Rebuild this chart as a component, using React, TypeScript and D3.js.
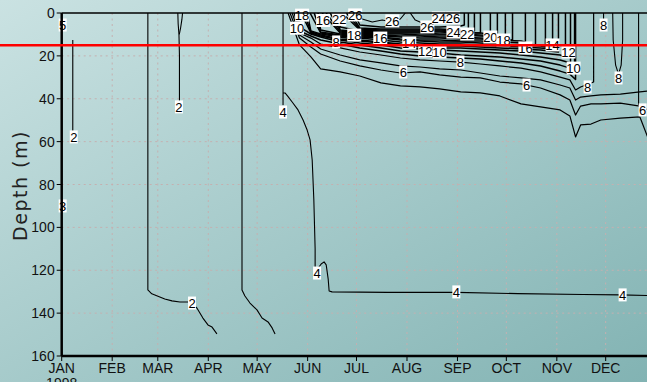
import React from 'react';
import * as d3 from 'd3';

// Lake temperature isotherms (°C) against day of year and depth, 1998.
const WIDTH = 647;
const HEIGHT = 382;

const MONTHS = ['JAN', 'FEB', 'MAR', 'APR', 'MAY', 'JUN', 'JUL', 'AUG', 'SEP', 'OCT', 'NOV', 'DEC'];
const MONTH_START_DAYS = [0, 31, 59, 90, 120, 151, 181, 212, 243, 273, 304, 334];
const YEAR_LABEL = '1998';
const DEPTH_TICKS = [0, 20, 40, 60, 80, 100, 120, 140, 160];
const REFERENCE_DEPTH = 15;

// Days on which the summer thermocline isotherm depths were read.
const KEY_DAYS = [146, 153, 159, 171, 183, 196, 208, 220, 232, 245, 257, 269, 282, 294, 306, 312, 315.5, 318.6, 325, 331, 343, 355, 360];

type Isotherm = { level: number; start: number; first: number; depths: number[]; end?: number; endDepth?: number };

// Each isotherm leaves the surface on `start`, follows `depths` from KEY_DAYS[first], and
// returns to the surface on `end` (turning up at `endDepth`).
const THERMOCLINE: Isotherm[] = [
  { level: 5, start: 139, first: 0, depths: [14.9, 20.5, 26.1, 27.5, 29.4, 32.6, 34.0, 34.5, 35.4, 36.8, 37.3, 38.7, 42.4, 43.8, 45.2, 48.0, 57.8, 52.2, 51.8, 49.9, 49.0, 48.5, 58.3] },
  { level: 6, start: 140.2, first: 0, depths: [11.7, 15.9, 19.1, 22.4, 24.7, 26.6, 28.0, 27.5, 28.9, 29.9, 30.3, 32.2, 33.1, 35.0, 38.2, 40.6, 47.6, 43.4, 42.4, 42.4, 42.0, 43.4, 45.2] },
  { level: 7, start: 141.5, first: 0, depths: [10.3, 13.5, 16.8, 19.6, 21.9, 23.3, 24.7, 25.2, 26.1, 26.6, 28.0, 29.4, 30.3, 31.2, 33.6, 35.0, 40.6, 39.2, 38.7, 38.2, 37.8, 36.8, 36.4] },
  { level: 8, start: 142.7, first: 0, depths: [9.3, 11.7, 14.5, 16.3, 18.2, 19.6, 21.0, 21.9, 22.4, 22.9, 23.8, 24.7, 25.7, 27.5, 29.9, 31.2, 35.9, 34.5], end: 326.6, endDepth: 32.2 },
  { level: 9, start: 143.9, first: 0, depths: [8.4, 10.7, 12.6, 14.5, 16.3, 17.7, 19.1, 20.1, 20.5, 21.0, 21.5, 22.4, 23.3, 24.7, 27.1, 28.5], end: 315.5, endDepth: 31 },
  { level: 10, start: 145.1, first: 0, depths: [6.5, 9.8, 11.2, 13.5, 14.9, 16.3, 17.7, 18.2, 18.7, 19.6, 20.1, 20.5, 21.5, 22.4, 24.3, 25.7], end: 314.9, endDepth: 27.5 },
  { level: 11, start: 147, first: 1, depths: [9.3, 10.7, 12.6, 14.0, 14.9, 16.3, 16.8, 17.3, 17.7, 18.2, 18.7, 19.6, 20.5, 21.9], end: 312.4, endDepth: 23.3 },
  { level: 12, start: 148.8, first: 1, depths: [8.9, 10.3, 12.1, 13.1, 14.0, 14.9, 15.9, 16.3, 16.3, 16.8, 17.3, 17.7, 18.7, 19.6], end: 309.3, endDepth: 20.5 },
  { level: 13, start: 150.7, first: 1, depths: [8.4, 9.8, 11.2, 12.6, 13.5, 14.5, 14.9, 15.4, 15.4, 15.9, 16.3, 16.8, 17.3], end: 305, endDepth: 18.2 },
  { level: 14, start: 152.5, first: 2, depths: [9.3, 10.7, 11.7, 12.6, 13.5, 14.0, 14.5, 14.5, 14.9, 15.4, 15.9, 16.3], end: 301.4, endDepth: 16.8 },
  { level: 15, start: 155, first: 2, depths: [8.9, 10.3, 11.2, 11.7, 12.6, 13.1, 13.5, 13.5, 14.0, 14.5, 14.9, 15.4], end: 297, endDepth: 15.9 },
  { level: 16, start: 157.4, first: 2, depths: [7.9, 9.8, 10.7, 11.2, 12.1, 12.6, 12.6, 13.1, 13.1, 13.5, 14.0], end: 290.9, endDepth: 14.9 },
  { level: 17, start: 159.9, first: 3, depths: [9.3, 10.3, 10.7, 11.2, 11.7, 11.7, 12.1, 12.1, 12.6, 13.1], end: 284.7, endDepth: 13.5 },
  { level: 18, start: 162.4, first: 3, depths: [8.9, 9.8, 10.3, 10.7, 10.7, 11.2, 11.2, 11.7, 12.1], end: 276.8, endDepth: 12.6 },
  { level: 19, start: 164.8, first: 3, depths: [8.4, 9.3, 9.8, 9.8, 10.3, 10.3, 10.3, 10.7, 11.2], end: 272.4, endDepth: 11.7 },
  { level: 20, start: 167.3, first: 3, depths: [7.9, 8.9, 9.3, 9.3, 9.3, 9.8, 9.8, 10.3], end: 267.5, endDepth: 10.7 },
  { level: 21, start: 169.7, first: 3, depths: [6.5, 8.4, 8.9, 8.9, 8.9, 8.9, 9.3, 9.3], end: 263.2, endDepth: 9.8 },
  { level: 22, start: 172.2, first: 4, depths: [7.9, 8.4, 8.4, 8.4, 8.4, 8.9], end: 257.1, endDepth: 9.3 },
  { level: 23, start: 174.7, first: 4, depths: [7.5, 7.9, 7.9, 7.9, 7.9, 8.4], end: 253.4, endDepth: 8.4 },
  { level: 24, start: 177.1, first: 4, depths: [7.0, 7.5, 7.5, 7.5, 7.5, 7.9], end: 249.7, endDepth: 7.9 },
  { level: 25, start: 179.6, first: 4, depths: [5.6, 6.5, 6.5, 6.5, 6.5, 6.1], end: 247.2, endDepth: 5.6 },
];

// Free-standing isotherm segments as [day, depth] pairs.
const ISO2_JANUARY: [number, number][] = [[6.8, 12.6], [6.8, 57.5]];
const ISO2_MARCH: [number, number][] = [[52.9, 0], [52.9, 129.2], [55.3, 131], [57.2, 131.5], [63.3, 133.4], [67.7, 134.3], [72.6, 134.8], [78.7, 134.8], [83, 137.6], [86.7, 142.3], [89.8, 145.5], [92.3, 146.5], [95.3, 149.7]];
const ISO2_SPIKE_A: [number, number][] = [[71.3, 0], [71.5, 5], [72, 10], [72.3, 20], [72.3, 42]];
const ISO2_SPIKE_B: [number, number][] = [[74.2, 0], [73.8, 3], [73, 7], [72.2, 10]];
const ISO3_APRIL: [number, number][] = [[110.7, 0], [110.7, 129.2], [112.5, 132], [115.6, 135.3], [119.9, 138.5], [123, 142.3], [126.7, 144.1], [129.2, 146.9], [131, 149.7]];
const ISO4_JUNE_TOP: [number, number][] = [[135.9, 0], [135.9, 43]];
const ISO4_JUNE: [number, number][] = [[135.9, 37.3], [137.1, 37.3], [139, 39], [141.5, 41.5], [145.1, 45.2], [148.2, 49.9], [150.7, 54.6], [152.5, 59.2], [153.8, 68.6], [154.8, 87], [155.6, 110], [155.6, 121], [157.5, 119], [159.3, 117.1], [161.1, 116.1], [162.4, 117.5], [163.6, 124], [164.2, 129.7], [166, 130.1], [200, 130.3], [242.3, 130.3], [280, 130.9], [320, 131.3], [343, 131.5], [362, 131.8]];
const ISO26_POOLS: [number, number][][] = [
  [[181.4, 0], [184.5, 2.8], [190.7, 4.2], [196.8, 3.3], [203, 4.2], [207.9, 2.8], [211, 0]],
  [[214, 0], [217.1, 3.3], [221.4, 4.7], [224.5, 5.2], [228.2, 4.7], [231.2, 3.3], [233.1, 0]],
  [[234.3, 0], [236.2, 2.8], [238.6, 4.2], [241.7, 2.8], [243.5, 0]],
];
const ISO6_DECEMBER: [number, number][] = [[354.2, 0], [354.2, 43]];
const ISO8_DECEMBER_A: [number, number][] = [[332.7, 0], [332.7, 7]];
const ISO8_DECEMBER_B: [number, number][] = [[338.3, 0], [338.6, 12.6], [340.1, 24.3], [341.9, 28.5], [343.5, 24.3], [344.4, 12.6], [344.4, 0]];

// Contour labels: text, day, depth.
const LABELS: [string, number, number][] = [
  ['5', 0.6, 5.6], ['3', 0.6, 90],
  ['2', 7.4, 57.8], ['2', 72, 43.8], ['2', 80, 135.3],
  ['4', 135.9, 46.2], ['4', 156.8, 121.3], ['4', 242.3, 130.1], ['4', 344.4, 131.5],
  ['10', 144.5, 7.1], ['18', 147.6, 1.0], ['16', 160.5, 3.5], ['22', 170.4, 3.0], ['26', 180.2, 0.9],
  ['8', 168.5, 13.5], ['18', 179.6, 10.3], ['16', 195.6, 11.7], ['14', 213.4, 14],
  ['12', 223.2, 17.7], ['10', 232, 18.2], ['8', 244.8, 22.9], ['6', 209.7, 27.5],
  ['26', 203, 3.7], ['26', 224.5, 6.5], ['24', 231.5, 2.3], ['26', 240.3, 2.3],
  ['24', 240.5, 8.9], ['22', 249, 9.8], ['20', 263.2, 11.2], ['18', 271.2, 12.6],
  ['16', 284.7, 16.3], ['14', 301.4, 14.9], ['12', 311.2, 18.2], ['10', 314.3, 25.7],
  ['8', 322.9, 34.5], ['6', 285.4, 33.6], ['8', 332.7, 5.6], ['8', 341.9, 30.3], ['6', 356.7, 45.2],
];

const NARROW = "'Liberation Sans Narrow', 'Arial Narrow', 'Liberation Sans', sans-serif";

function isothermPoints(iso: Isotherm): [number, number][] {
  const pts: [number, number][] = [[iso.start, 0]];
  iso.depths.forEach((d, i) => pts.push([KEY_DAYS[iso.first + i], d]));
  if (iso.end !== undefined) {
    pts.push([iso.end, iso.endDepth as number]);
    pts.push([iso.end, 0]);
  }
  return pts;
}

export default function App() {
  const x = d3.scaleLinear().domain([0, 365]).range([61.7, 61.7 + 365 * 1.6287]);
  const y = d3.scaleLinear().domain([0, 160]).range([13, 356]);
  const line = d3.line<[number, number]>().x(d => x(d[0])).y(d => y(d[1]));

  const x0 = x(0);
  const x1 = x(365);
  const yTop = y(0);
  const yBottom = y(160);

  const segments: [number, number][][] = [
    ISO2_JANUARY, ISO2_MARCH, ISO2_SPIKE_A, ISO2_SPIKE_B, ISO3_APRIL,
    ISO4_JUNE_TOP, ISO4_JUNE, ...ISO26_POOLS, ISO6_DECEMBER, ISO8_DECEMBER_A, ISO8_DECEMBER_B,
  ];

  return (
    <div style={{ position: 'absolute', left: 0, top: 0, width: WIDTH, height: HEIGHT, overflow: 'hidden' }}>
      <svg width={WIDTH} height={HEIGHT} style={{ display: 'block' }}>
        <defs>
          <linearGradient id="bg" x1="0" y1="0" x2="1" y2="1">
            <stop offset="0%" stopColor="#cae2e2" />
            <stop offset="100%" stopColor="#82b3b3" />
          </linearGradient>
          <clipPath id="plot">
            <rect x={x0} y={yTop} width={x1 - x0} height={yBottom - yTop} />
          </clipPath>
        </defs>
        <rect x={0} y={0} width={WIDTH} height={HEIGHT} fill="url(#bg)" />

        <g stroke="#c4b0b0" strokeWidth={1} strokeDasharray="2,3.5">
          {MONTH_START_DAYS.slice(1).map(d => (
            <line key={`gx${d}`} x1={x(d)} x2={x(d)} y1={yTop} y2={yBottom} />
          ))}
          {DEPTH_TICKS.slice(1, -1).map(d => (
            <line key={`gy${d}`} x1={x0} x2={x1} y1={y(d)} y2={y(d)} />
          ))}
        </g>

        <g clipPath="url(#plot)" fill="none" stroke="#000" strokeLinejoin="round">
          {segments.map((s, i) => (
            <path key={`s${i}`} d={line(s) as string} strokeWidth={1.1} />
          ))}
          {THERMOCLINE.map(iso => (
            <path key={`t${iso.level}`} d={line(isothermPoints(iso)) as string} strokeWidth={iso.level >= 9 ? 1.5 : 1.2} />
          ))}
        </g>

        <g fontFamily={NARROW} fontSize={13} textAnchor="middle">
          {LABELS.map(([t, day, depth], i) => {
            const w = t.length * 6 + 2;
            return (
              <g key={i} transform={`translate(${x(day)},${y(depth)})`}>
                <rect x={-w / 2} y={-6.5} width={w} height={13} fill="#fff" />
                <text y={4.6} fill="#000">{t}</text>
              </g>
            );
          })}
        </g>

        <g stroke="#000" fill="none">
          <line x1={x0} x2={x1} y1={yTop} y2={yTop} strokeWidth={1.5} />
          <line x1={x0} x2={x1} y1={yBottom} y2={yBottom} strokeWidth={2.5} />
          <line x1={x0} x2={x0} y1={yTop} y2={yBottom} strokeWidth={2.5} />
          {MONTH_START_DAYS.map(d => (
            <line key={`tx${d}`} x1={x(d)} x2={x(d)} y1={yBottom} y2={yBottom + 5} strokeWidth={1} />
          ))}
          {DEPTH_TICKS.map(d => (
            <line key={`ty${d}`} x1={x0 - 5} x2={x0} y1={y(d)} y2={y(d)} strokeWidth={1} />
          ))}
        </g>

        <g fontFamily={NARROW} fontSize={14} fill="#111">
          {MONTHS.map((m, i) => (
            <text key={m} x={x(MONTH_START_DAYS[i])} y={yBottom + 17} textAnchor="middle">{m}</text>
          ))}
          <text x={x(0)} y={yBottom + 32} textAnchor="middle">{YEAR_LABEL}</text>
          {DEPTH_TICKS.map(d => (
            <text key={`l${d}`} x={x0 - 7} y={y(d) + 5} textAnchor="end">{d}</text>
          ))}
        </g>

        <text
          transform={`translate(27,${(yTop + yBottom) / 2 + 1}) rotate(-90)`}
          textAnchor="middle"
          fontFamily="'DejaVu Sans', sans-serif"
          fontSize={19}
          letterSpacing={1.5}
          fill="#222"
        >
          Depth (m)
        </text>

        <line x1={0} x2={WIDTH} y1={y(REFERENCE_DEPTH)} y2={y(REFERENCE_DEPTH)} stroke="#ff0000" strokeWidth={2.5} />
      </svg>
    </div>
  );
}
